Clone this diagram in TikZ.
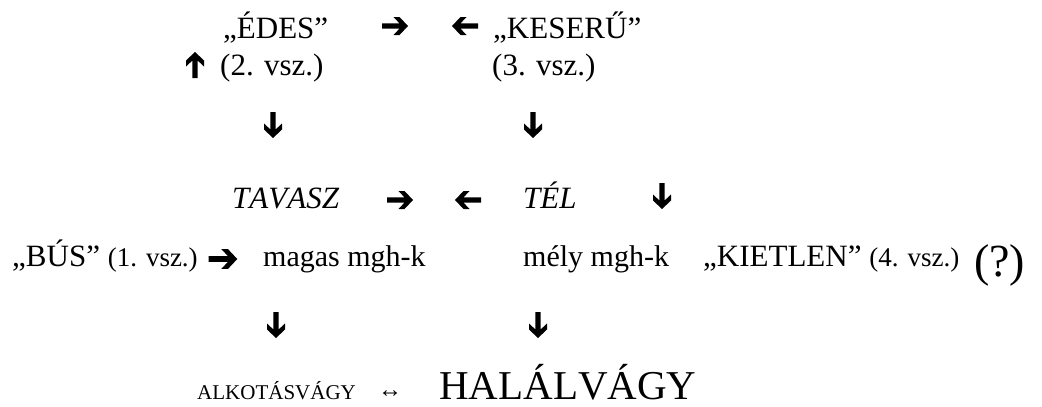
\documentclass[tikz,border=0pt]{standalone}
\usepackage{fontspec}
\setmainfont[Kerning=Off]{Liberation Serif}
\begin{document}
\begin{tikzpicture}[x=1pt,y=-1pt,
  lbl/.style={anchor=base west, inner sep=0pt, font=\fontsize{31}{37}\selectfont},
  sound/.style={anchor=base west, inner sep=0pt, font=\fontsize{30}{36}\selectfont},
  season/.style={anchor=base west, inner sep=0pt, font=\fontsize{31}{37}\selectfont\itshape},
  warrow/.pic={\fill (13,0) -- (4.5,-9) -- (-1.5,-9) -- (4.5,-2.6) -- (-13,-2.6)
      -- (-13,2.6) -- (4.5,2.6) -- (-1.5,9) -- (4.5,9) -- cycle;}]
\useasboundingbox (0,0) rectangle (1042,407);

% top row: the two flavours
\node[lbl] (edes) at (223,38) {„ÉDES”};
\node[lbl] (keseru) at (493,38) {„KESERŰ”};
\node[lbl] (v2) at (220,75) {(2. vsz.)};
\node[lbl] (v3) at (492,75) {(3. vsz.)};
\pic at (395,26) {warrow};
\pic[rotate=180] at (465,26) {warrow};
\pic[rotate=90] at (195,65) {warrow};

\pic[rotate=-90] at (273,125) {warrow};
\pic[rotate=-90] at (533,125) {warrow};

% seasons
\node[season] (tavasz) at (232,208) {TAVASZ};
\node[season] (tel) at (523,208) {TÉL};
\pic at (400,200) {warrow};
\pic[rotate=180] at (468,200) {warrow};
\pic[rotate=-90] at (662,196) {warrow};

% sounds
\node[lbl] (bus) at (12,266) {„BÚS” {\fontsize{27}{32}\selectfont(1. vsz.)}};
\pic[scale=1.1] at (223,259) {warrow};
\node[sound] (magas) at (263,266) {magas mgh-k};
\node[sound] (mely) at (523,266) {mély mgh-k};
\node[lbl] (kietlen) at (703,266) {„KIETLEN” {\fontsize{27}{32}\selectfont(4. vsz.)}};
\node[anchor=base west, inner sep=0pt, font=\fontsize{46}{55}\selectfont] (kerdes) at (974,276) {(?)};

\pic[rotate=-90] at (276,325) {warrow};
\pic[rotate=-90] at (538,325) {warrow};

% desires
\node[anchor=base west, inner sep=0pt, font=\fontsize{21}{25}\selectfont] (alkotas) at (197,399) {ALKOTÁSVÁGY};
\node[anchor=base, inner sep=0pt, font=\fontsize{24}{29}\selectfont] (kozt) at (390,397) {↔};
\node[anchor=base west, inner sep=0pt, font=\fontsize{41}{49}\selectfont] (halal) at (439,399) {HALÁLVÁGY};
\end{tikzpicture}
\end{document}
